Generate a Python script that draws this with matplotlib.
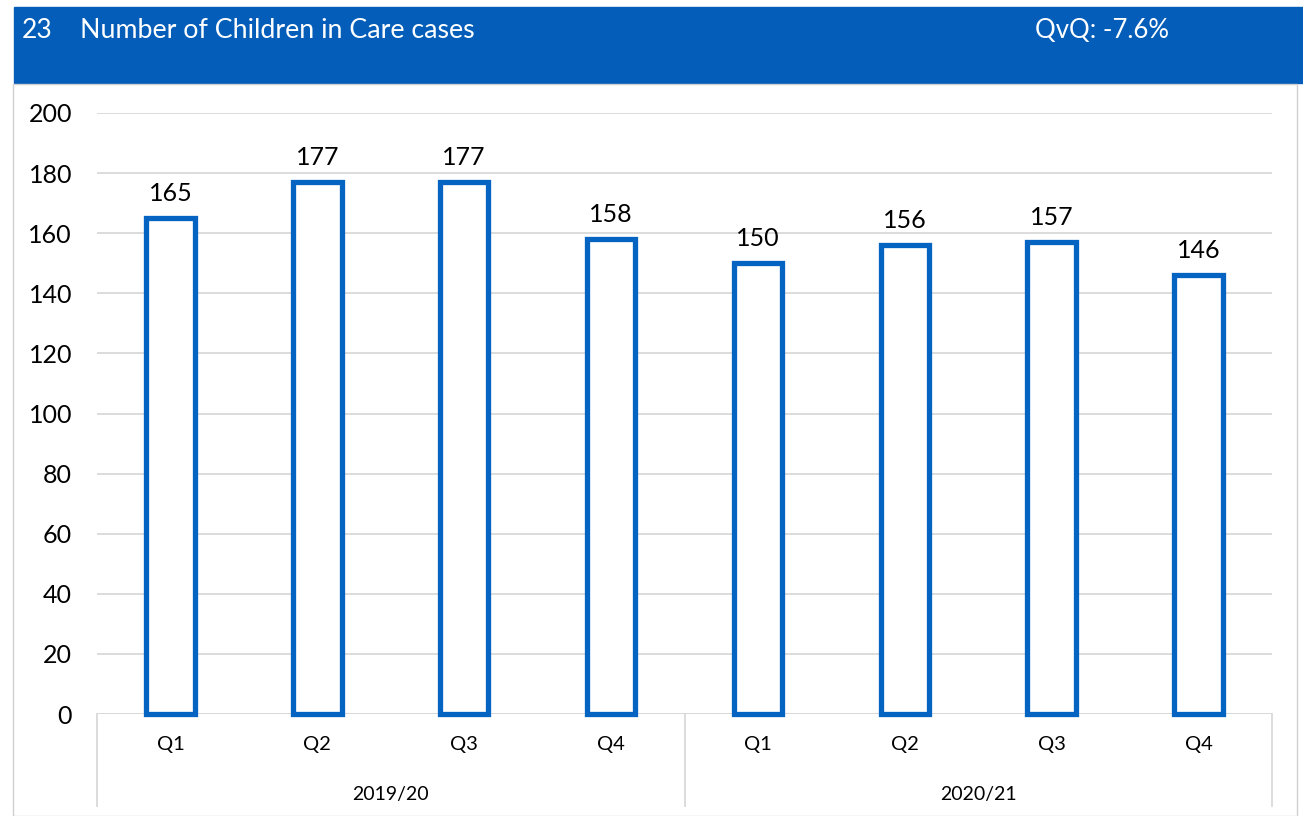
import matplotlib.pyplot as plt
from matplotlib.patches import Rectangle

# data
years = ["2019/20", "2020/21"]
quarters = ["Q1", "Q2", "Q3", "Q4", "Q1", "Q2", "Q3", "Q4"]
cases = [165, 177, 177, 158, 150, 156, 157, 146]
chart_no = "23"
title = "Number of Children in Care cases"
change = "QvQ: -7.6%"

W, H = 1303, 816
blue = "#045EB9"
bar_blue = "#0563C1"
grid_col = "#D9D9D9"

plt.rcParams["font.family"] = ["Lato", "DejaVu Sans"]

fig = plt.figure(figsize=(W / 100, H / 100), dpi=100)

def fx(px):
    return px / W

def fy(py):
    return 1 - py / H

# header band and frame
fig.patches.append(Rectangle((fx(14), fy(83)), fx(W - 14), 76 / H,
                             transform=fig.transFigure, color=blue, zorder=0))
fig.patches.append(Rectangle((fx(13), fy(816)), fx(1297 - 13), (816 - 84) / H,
                             transform=fig.transFigure, fill=False,
                             edgecolor="#D0D0D0", lw=1, zorder=0))
fig.text(fx(22), fy(31), chart_no, color="white", fontsize=19, va="center")
fig.text(fx(80), fy(31), title, color="white", fontsize=19.3, va="center")
fig.text(fx(1035), fy(31), change, color="white", fontsize=18.5, va="center")

ax = fig.add_axes([fx(97), fy(714), fx(1272 - 97), (714 - 113) / H])
x = list(range(len(cases)))
ax.bar(x, cases, width=0.33, facecolor="white", edgecolor=bar_blue,
       linewidth=3.8, zorder=3, clip_on=False)
for xi, v in zip(x, cases):
    ax.text(xi, v + 4.3, str(v), ha="center", va="bottom", fontsize=18)

ax.set_xlim(-0.5, len(cases) - 0.5)
ax.set_ylim(0, 200)
ax.set_yticks(range(0, 201, 20))
ax.yaxis.grid(True, color=grid_col, lw=1.3)
ax.set_axisbelow(True)
ax.tick_params(axis="y", length=0, labelsize=18, pad=18)
ax.set_xticks([])
for s in ax.spines.values():
    s.set_visible(False)
ax.axhline(0, color=grid_col, lw=1.3, zorder=2)

# two-level category axis
for b in [-0.5, 3.5, 7.5]:
    ax.plot([b, b], [0, -30.5], color=grid_col, lw=1.3, clip_on=False)
for xi, q in zip(x, quarters):
    ax.text(xi, -10.3, q, ha="center", va="center", fontsize=14.5)
for i, yr in enumerate(years):
    ax.text(i * 4 + 1.5, -26.8, yr, ha="center", va="center", fontsize=14)

fig.savefig("out.png", dpi=100)
